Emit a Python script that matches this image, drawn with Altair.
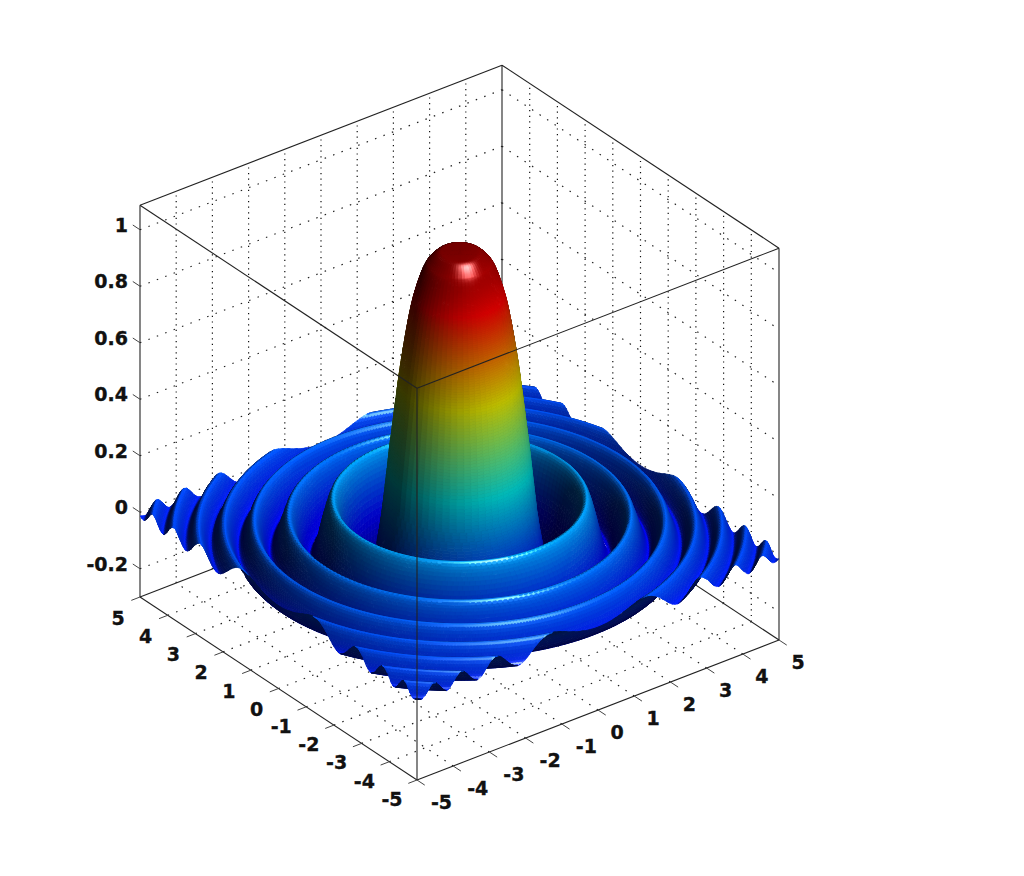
import altair as alt
import numpy as np
import pandas as pd

alt.data_transformers.disable_max_rows()

# Radial height profile of the surface (distance from centre, height)
PROFILE_R = [0, .4, .7, 1.0, 1.25, 1.5, 1.772, 2.12, 2.78, 3.30, 3.75, 4.15, 4.51, 4.85,
             5.17, 5.46, 5.74, 6.01, 6.27, 6.51, 6.75, 6.98, 7.10]
PROFILE_Z = [1, .996, .96, .841, .64, .346, 0, -.217, .128, -.091, .071, -.058, .049, -.042,
             .037, -.033, .030, -.028, .025, -.024, .022, -.020, -.012]
XY_TICKS = [-5, -4, -3, -2, -1, 0, 1, 2, 3, 4, 5]
Z_TICKS = [-0.2, 0, 0.2, 0.4, 0.6, 0.8, 1]
Z_LABELS = ["-0.2", "0", "0.2", "0.4", "0.6", "0.8", "1"]
XY_MIN, XY_MAX = -5, 5
Z_MIN, Z_MAX = -0.3, 1.087
JET_POS = [0, .125, .375, .625, .875, 1]
JET_R = [0, 0, 0, 1, 1, .5]
JET_G = [0, 0, 1, 1, 0, 0]
JET_B = [.55, 1, 1, 0, 0, 0]

AX = np.array([36.2, 14.0, -23.9]) / 45.6
AY = np.array([-27.7, 18.3, -31.2]) / 45.6
AZ = np.array([0.0, 282.5, 165.5]) / 327.3


def sx(x, y, z=0):
    return 459.5 + 36.2 * np.asarray(x) - 27.7 * np.asarray(y)


def sy(x, y, z):
    return 618.5 - 14.0 * np.asarray(x) - 18.3 * np.asarray(y) - 282.5 * (np.asarray(z) + 0.3)


def depth(x, y, z):
    return -23.9 * np.asarray(x) - 31.2 * np.asarray(y) + 165.5 * np.asarray(z)


def profile(r):
    k = np.array(PROFILE_R, float)
    v = np.array(PROFILE_Z, float)
    h = np.diff(k)
    d = np.diff(v) / h
    m = np.zeros_like(v)
    for i in range(1, len(v) - 1):
        if d[i - 1] * d[i] > 0:
            w1 = 2 * h[i] + h[i - 1]
            w2 = h[i] + 2 * h[i - 1]
            m[i] = (w1 + w2) / (w1 / d[i - 1] + w2 / d[i])
    r = np.asarray(r, float)
    i = np.clip(np.searchsorted(k, r) - 1, 0, len(h) - 1)
    t = (r - k[i]) / h[i]
    return ((2 * t**3 - 3 * t**2 + 1) * v[i] + (t**3 - 2 * t**2 + t) * h[i] * m[i]
            + (-2 * t**3 + 3 * t**2) * v[i + 1] + (t**3 - t**2) * h[i] * m[i + 1])


# depth buffer from a dense sampling of the square
gf = np.linspace(XY_MIN, XY_MAX, 701)
XF, YF = np.meshgrid(gf, gf, indexing="ij")
ZF = profile(np.hypot(XF, YF))
buf = np.full((1100, 1100), -1e9)
np.maximum.at(buf, (np.rint(sx(XF, YF)).astype(int), np.rint(sy(XF, YF, ZF)).astype(int)), depth(XF, YF, ZF))

# polar cells, so colour bands follow the rings
edges = np.concatenate([np.arange(0, .5, .025), np.arange(.5, 1.95, .008),
                        np.arange(1.95, 4, .025), np.arange(4, 7.08, .03), [7.08]])
L = np.array([.36, .55, .75])
L = L / np.linalg.norm(L)
H = L + np.array([0, 0, 1.0])
H = H / np.linalg.norm(H)

R0, R1, T0, T1 = [], [], [], []
for r0, r1 in zip(edges[:-1], edges[1:]):
    arc = .16 if r1 < 1.95 else (.12 if r1 < 4 else .07)
    n = max(64, int(2 * np.pi * r1 / arc))
    th = np.linspace(0, 2 * np.pi, n + 1)
    R0.append(np.full(n, r0)); R1.append(np.full(n, r1)); T0.append(th[:-1]); T1.append(th[1:])
R0, R1, T0, T1 = map(np.concatenate, (R0, R1, T0, T1))


def rmax(t):
    return 5.0 / np.maximum(np.abs(np.cos(t)), np.abs(np.sin(t)))


TM = (T0 + T1) / 2
ok = R0 < np.maximum(rmax(T0), rmax(T1))
R0, R1, T0, T1, TM = R0[ok], R1[ok], T0[ok], T1[ok], TM[ok]


def vert(r, t):
    rc = np.minimum(r, rmax(t))
    x, y = rc * np.cos(t), rc * np.sin(t)
    z = profile(rc)
    return x, y, z


V = [vert(R0, T0), vert(R1, T0), vert(R1, T1), vert(R0, T1)]
VS = [(sx(v[0], v[1]), sy(*v), depth(*v)) for v in V]
cd = sum(v[2] for v in VS) / 4
csx = sum(v[0] for v in VS) / 4
csy = sum(v[1] for v in VS) / 4

# visibility test
vis = np.zeros(len(R0), bool)
for a, b, c in VS + [(csx, csy, cd)]:
    vis |= c >= buf[np.rint(a).astype(int), np.rint(b).astype(int)] - 4

RM = np.minimum((R0 + R1) / 2, rmax(TM))
ZM = profile(RM)
eps = .004
slope = (profile(RM + eps) - profile(np.maximum(RM - eps, 0))) / (eps + np.minimum(RM, eps))
slope_box = slope * 327.3 / 45.6
nb = np.stack([-slope_box * np.cos(TM), -slope_box * np.sin(TM), np.ones_like(TM)], -1)
nb /= np.linalg.norm(nb, axis=-1, keepdims=True)
nv = nb[:, :1] * AX + nb[:, 1:2] * AY + nb[:, 2:] * AZ
under = nv[:, 2] < 0
nv[under] *= -1
dif = np.clip((nv * L).sum(-1), 0, 1)
spc = np.clip((nv * H).sum(-1), 0, 1) ** 40
t = np.clip((ZM + .217) / 1.217, 0, 1)
base = np.stack([np.interp(t, JET_POS, JET_R), np.interp(t, JET_POS, JET_G), np.interp(t, JET_POS, JET_B)], -1)
amb = np.where(under, .26, .22)
kd = np.where(under, .4, .85)
ks = np.where(under, 0, .8)
rgb = np.clip(base * (amb + kd * dif)[:, None] + (ks * spc)[:, None], 0, 1)
rgb8 = (rgb * 255).astype(int)

order = np.argsort(cd)
order = order[vis[order]]
features = []
for q in order:
    ring = [[round(float(v[0][q]) - 8, 1), round(float(v[1][q]) - 8, 1)] for v in VS]
    ring.append(ring[0])
    r, gg, b = rgb8[q]
    features.append({"type": "Feature", "geometry": {"type": "Polygon", "coordinates": [ring]},
                     "properties": {"c": f"#{r:02x}{gg:02x}{b:02x}"}})

surface = (alt.Chart(alt.Data(values=features))
           .mark_geoshape(strokeWidth=0.8)
           .encode(color=alt.Color("properties.c:N", scale=None),
                   stroke=alt.Stroke("properties.c:N", scale=None))
           .project(type="identity", scale=1, translate=[0, 0]))


def seg(a, b):
    return dict(x=float(sx(a[0], a[1])), y=float(sy(*a)), x2=float(sx(b[0], b[1])), y2=float(sy(*b)))


lo, hi = XY_MIN, XY_MAX
grid_v = []
grid_o = []
for v in XY_TICKS[1:-1]:
    grid_v += [seg((v, hi, Z_MIN), (v, hi, Z_MAX)), seg((hi, v, Z_MIN), (hi, v, Z_MAX))]
    grid_o += [seg((v, lo, Z_MIN), (v, hi, Z_MIN)), seg((lo, v, Z_MIN), (hi, v, Z_MIN))]
for v in Z_TICKS:
    grid_o += [seg((lo, hi, v), (hi, hi, v)), seg((hi, hi, v), (hi, lo, v))]
back = [seg((lo, hi, Z_MIN), (lo, hi, Z_MAX)), seg((hi, lo, Z_MIN), (hi, lo, Z_MAX)),
        seg((hi, hi, Z_MIN), (hi, hi, Z_MAX)),
        seg((lo, hi, Z_MAX), (hi, hi, Z_MAX)), seg((hi, hi, Z_MAX), (hi, lo, Z_MAX)),
        seg((lo, hi, Z_MIN), (hi, hi, Z_MIN)), seg((hi, hi, Z_MIN), (hi, lo, Z_MIN))]
front = [seg((lo, lo, Z_MIN), (lo, lo, Z_MAX)), seg((lo, hi, Z_MAX), (lo, lo, Z_MAX)),
         seg((lo, lo, Z_MAX), (hi, lo, Z_MAX)), seg((lo, hi, Z_MIN), (lo, lo, Z_MIN)),
         seg((lo, lo, Z_MIN), (hi, lo, Z_MIN))]
ticks = []
labels = []
for v in XY_TICKS:
    ticks.append(seg((v, lo, Z_MIN), (v, lo - 0.28, Z_MIN)))
    ticks.append(seg((lo, v, Z_MIN), (lo - 0.24, v, Z_MIN)))
    tx, ty = float(sx(v, lo)), float(sy(v, lo, Z_MIN))
    labels.append(dict(x=tx + (24.5 if v < 0 else 19), y=ty + 23, t=str(v)))
    tx, ty = float(sx(lo, v)), float(sy(lo, v, Z_MIN))
    labels.append(dict(x=tx + (-25 if v < 0 else -22), y=ty + (20 if v < 0 else 21.5), t=str(v)))
zlabels = []
for v, s in zip(Z_TICKS, Z_LABELS):
    ticks.append(seg((lo, hi, v), (lo, hi + 0.26, v)))
    zlabels.append(dict(x=128, y=float(sy(lo, hi, v)) - 4, t=s))

xs = alt.Scale(domain=[8, 1008])
ys = alt.Scale(domain=[848, 8])


def rules(data, **kw):
    return alt.Chart(pd.DataFrame(data)).mark_rule(**kw).encode(
        x=alt.X("x:Q", scale=xs, axis=None), y=alt.Y("y:Q", scale=ys, axis=None), x2="x2:Q", y2="y2:Q")


def texts(data, **kw):
    return alt.Chart(pd.DataFrame(data)).mark_text(
        font="DejaVu Sans", fontWeight="bold", fontSize=19, color="#111111",
        stroke="#111111", strokeWidth=0.35, baseline="middle", **kw
    ).encode(x=alt.X("x:Q", scale=xs, axis=None), y=alt.Y("y:Q", scale=ys, axis=None), text="t:N")


chart = alt.layer(
    rules(grid_v, color="#111111", strokeWidth=1.2, strokeDash=[1.2, 4.4]),
    rules(grid_o, color="#222222", strokeWidth=1.2, strokeDash=[1.5, 7.5]),
    rules(back, color="#222222", strokeWidth=1.1),
    surface,
    rules(front, color="#222222", strokeWidth=1.1),
    rules(ticks, color="#444444", strokeWidth=1),
    texts(labels, align="center"),
    texts(zlabels, align="right"),
).properties(width=1000, height=840, padding=0, background="white"
).configure_view(stroke=None)

chart.save("out.html", embed_options={"renderer": "svg", "actions": False})
